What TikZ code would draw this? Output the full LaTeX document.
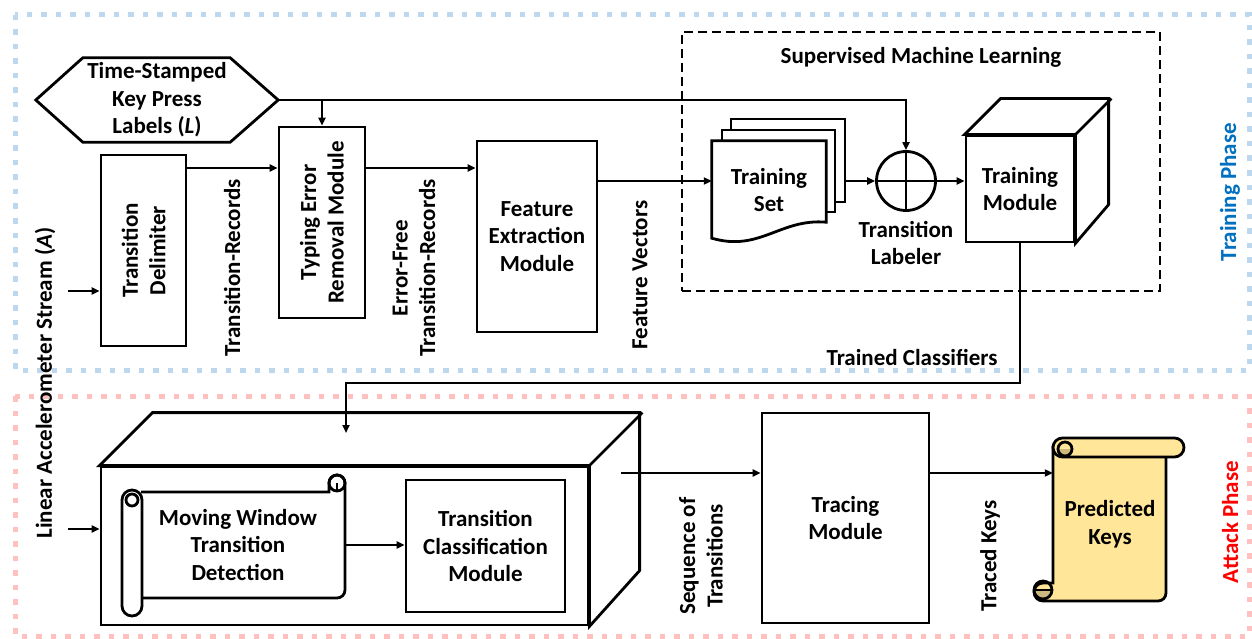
\documentclass[tikz,border=0pt]{standalone}
\usepackage{fontspec}
\setmainfont{Carlito}
\usetikzlibrary{arrows.meta,calc}
\definecolor{phblue}{RGB}{189,215,238}
\definecolor{phred}{RGB}{255,192,192}
\definecolor{tblue}{RGB}{0,112,192}
\definecolor{scrollyel}{RGB}{255,230,153}
\definecolor{scrolltan}{RGB}{205,185,125}
\begin{document}
\begin{tikzpicture}[x=1pt,y=-1pt,
  font=\fontsize{23}{27.5}\selectfont\bfseries,
  boxline/.style={line width=2.8pt, line join=miter},
  box/.style={draw, boxline, fill=white, inner sep=0pt},
  conn/.style={line width=2.3pt},
  arr/.style={conn, -{Triangle[length=8pt,width=7pt]}},
  phase/.style={line width=5pt, dash pattern=on 5.5pt off 9pt},
  rtext/.style={rotate=90, align=center},
  ctext/.style={align=center}]
\useasboundingbox (0,0) rectangle (1252,639);
% phase frames
\draw[phase, phblue] (15,15) rectangle (1249,370);
\draw[phase, phred] (15,396) rectangle (1249,636);
% supervised ML frame
\node[draw, boxline, dashed, dash pattern=on 9pt off 5pt, minimum width=478, minimum height=259] (sml) at (921,161.5) {};
\node[ctext] (smlt) at (921,57) {Supervised Machine Learning};
% hexagon
\node[ctext, minimum width=242, minimum height=84, inner sep=0pt] (lab) at (157,100) {Time-Stamped\\Key Press\\Labels (\textit{L})};
\draw[boxline] (lab.west) -- ($(lab.north west)+(47,0)$) -- ($(lab.north east)+(-48,0)$) -- (lab.east) -- ($(lab.south east)+(-48,0)$) -- ($(lab.south west)+(47,0)$) -- cycle;
% training row boxes
\node[box, minimum width=85, minimum height=191, label={[rtext]center:Transition\\Delimiter}] (td) at (143.5,250.5) {};
\node[box, minimum width=86, minimum height=191, label={[rtext]center:Typing Error\\Removal Module}] (te) at (322,222.5) {};
\node[box, ctext, minimum width=120, minimum height=191] (fe) at (537,236.5) {Feature\\Extraction\\Module};
% training set documents
\node[box, minimum width=114, minimum height=83] (ts3) at (788,160.5) {};
\node[box, minimum width=113, minimum height=82] (ts2) at (778.5,171) {};
\node[ctext, minimum width=114, minimum height=97, inner sep=0pt] (ts1) at (769,189.5) {};
\draw[boxline, fill=white] (ts1.north west) -- (ts1.north east) -- ($(ts1.south east)+(0,-16)$) .. controls ($(ts1.south east)+(-46,-20)$) and ($(ts1.south west)+(48,14)$) .. (ts1.south west) -- cycle;
\node[ctext] (tst) at (769,190) {Training\\Set};
% transition labeler
\node[draw, boxline, circle, minimum size=59, inner sep=0pt] (tl) at (906,181) {};
\draw[boxline] (tl.north) -- (tl.south) (tl.west) -- (tl.east);
\node[ctext] (tlt) at (906,243) {Transition\\Labeler};
% training module cube
\node[box, ctext, minimum width=108, minimum height=106] (tm) at (1020,189) {Training\\Module};
\draw[boxline, fill=white] (tm.north west) -- ++(36,-36) -- ++(108,0) -- ++(0,106) -- (tm.south east) -- (tm.north east) -- cycle;
\draw[boxline] (tm.north east) -- ++(36,-36);
% labels (training)
\node[rtext] (l1) at (232,268) {Transition-Records};
\node[rtext] (l2) at (414,268) {Error-Free\\Transition-Records};
\node[rtext] (l3) at (640,275) {Feature Vectors};
\node[ctext] (l4) at (912,357) {Trained Classifiers};
\node[rtext] (l5) at (45,383) {Linear Accelerometer Stream (\textit{A})};
\node[rtext, text=tblue] (ph1) at (1230,192) {Training Phase};
\node[rtext, text=red] (ph2) at (1230,522) {Attack Phase};
% training connectors
\coordinate (in1) at (68,291);
\coordinate (r1) at (0,168);
\coordinate (r2) at (0,181);
\draw[arr] (in1) -- (td.west |- in1);
\draw[arr] (td.east |- r1) -- (te.west |- r1);
\draw[arr] (te.east |- r1) -- (fe.west |- r1);
\draw[arr] (fe.east |- r2) -- (ts1.west |- r2);
\draw[arr] (ts3.east |- r2) -- (tl.west);
\draw[arr] (tl.east) -- (tm.west |- r2);
\draw[arr] (lab.east) -| (tl.north);
\draw[arr] (lab.east -| te.north) -- (te.north);
% attack cube
\node[box, minimum width=487, minimum height=158] (ac) at (344.5,546) {};
\draw[boxline, fill=white] (ac.north west) -- ++(53,-53) -- ++(487,0) -- ++(0,158) -- (ac.south east) -- (ac.north east) -- cycle;
\draw[boxline] (ac.north east) -- ++(53,-53);
% moving window scroll
\node[ctext, minimum width=204, minimum height=106, inner sep=0pt] (mw) at (243,545) {};
\draw[boxline, fill=white] (141,492) -- (329,492) -- (329,483) arc[start angle=180, end angle=360, radius=8] -- (345,590) arc[start angle=0, end angle=90, radius=8] -- (141,598);
\draw[boxline] (337,483) circle (8);
\draw[boxline] (337,483) -- (337,492);
\draw[boxline, fill=white, rounded corners=10] (122,490) rectangle (142,616);
\draw[boxline] (132,500) circle (6);
\node[ctext] (mwt) at (238,545) {Moving Window\\Transition\\Detection};
\node[box, ctext, minimum width=159, minimum height=132] (tcm) at (485.5,546) {Transition\\Classification\\Module};
% tracing & predicted keys
\node[box, ctext, minimum width=167, minimum height=210] (tr) at (845.5,518) {Tracing\\Module};
\node[minimum width=113, minimum height=154, inner sep=0pt] (pk) at (1109.5,524) {};
\draw[boxline, fill=scrollyel] (1053,447) -- (1166,447) -- (1166,593) arc[start angle=0, end angle=90, radius=8] -- (1043,601) arc[start angle=90, end angle=270, radius=9] -- (1053,583) -- cycle;
\fill[scrolltan] (1034,590) arc[start angle=180, end angle=0, radius=9] -- cycle;
\draw[boxline] (1043,590) circle (9);
\draw[boxline] (1034,590) -- (1053,590);
\draw[boxline, fill=scrollyel, rounded corners=9.5] (1053,438) rectangle (1184,457);
\fill[scrolltan] (1058,449) arc[start angle=180, end angle=0, radius=7] -- cycle;
\draw[boxline] (1065,449) circle (7);
\node[ctext] (pkt) at (1110,524) {Predicted\\Keys};
% attack connectors
\coordinate (in2) at (68,529);
\coordinate (tcb) at (346,383);
\coordinate (tce) at (346,433);
\coordinate (sq) at (621,473);
\draw[arr] (in2) -- (ac.west |- in2);
\draw[arr] (tm.south) |- (tcb) -- (tce);
\draw[arr] (mw.east) -- (tcm.west |- mw.east);
\draw[arr] (sq) -- (tr.west |- sq);
\draw[arr] (tr.east |- sq) -- (pk.west |- sq);
\node[rtext] (l6) at (701,556) {Sequence of\\Transitions};
\node[rtext] (l7) at (990,556) {Traced Keys};
\end{tikzpicture}
\end{document}
